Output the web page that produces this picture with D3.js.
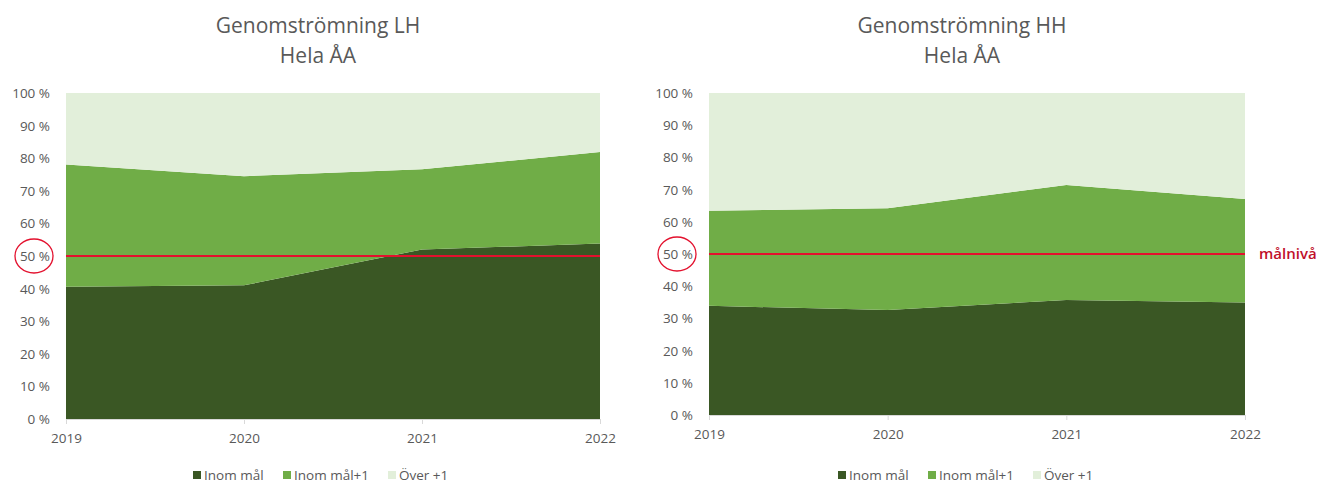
<!doctype html>
<html lang="sv">
<head>
  <meta charset="utf-8">
  <title>Genomströmning</title>
</head>
<body style="overflow: hidden; margin: 0; background: #fff;">
  <script src="https://cdnjs.cloudflare.com/ajax/libs/d3/7.8.5/d3.min.js"></script>
  <script type="text/javascript">

    // data
    const years = ["2019", "2020", "2021", "2022"];
    const seriesNames = ["Inom mål", "Inom mål+1", "Över +1"];
    const lhInom = [40.6, 41.0, 52.0, 53.8];
    const lhInom1 = [37.5, 33.5, 24.6, 28.1];
    const lhOver = [21.9, 25.5, 23.4, 18.1];
    const hhInom = [33.9, 32.6, 35.7, 34.9];
    const hhInom1 = [29.5, 31.6, 35.7, 32.2];
    const hhOver = [36.6, 35.8, 28.6, 32.9];
    const yTicks = [0, 10, 20, 30, 40, 50, 60, 70, 80, 90, 100];
    const target = 50;

    const colors = ["#3a5724", "#70ad47", "#e2efda"];
    const font = "'Open Sans', 'Liberation Sans', sans-serif";

    let svg = d3.select("body").append("svg")
      .attr("width", 1326)
      .attr("height", 483)
      .style("font-family", font);

    function drawChart(cfg) {
      let rows = years.map((y, i) => ({
        year: y,
        "Inom mål": cfg.a[i],
        "Inom mål+1": cfg.b[i],
        "Över +1": cfg.c[i]
      }));
      let stacked = d3.stack().keys(seriesNames)(rows);

      let x = d3.scalePoint().domain(years).range([cfg.left, cfg.right]);
      let y = d3.scaleLinear().domain([0, 100]).range([cfg.bottom, cfg.top]);

      let g = svg.append("g");

      // title
      g.append("text")
        .attr("x", cfg.titleX).attr("y", 33)
        .attr("text-anchor", "middle")
        .attr("font-size", 21).attr("fill", "#595959")
        .text(cfg.title);
      g.append("text")
        .attr("x", cfg.titleX).attr("y", 63)
        .attr("text-anchor", "middle")
        .attr("font-size", 21).attr("fill", "#595959")
        .text("Hela ÅA");

      let area = d3.area()
        .x(d => x(d.data.year))
        .y0(d => y(d[0]))
        .y1(d => y(d[1]));

      g.selectAll("path.layer")
        .data(stacked)
        .join("path")
        .attr("class", "layer")
        .attr("fill", (d, i) => colors[i])
        .attr("d", area);

      // y axis labels
      g.selectAll("text.ytick")
        .data(yTicks)
        .join("text")
        .attr("class", "ytick")
        .attr("x", cfg.left - 16)
        .attr("y", d => y(d) + 5)
        .attr("text-anchor", "end")
        .attr("font-size", 13.5).attr("fill", "#595959")
        .text(d => d + " %");

      // x axis
      let xAxis = d3.axisBottom(x).tickSize(5).tickSizeOuter(0).tickPadding(9);
      let ax = g.append("g")
        .attr("transform", "translate(0," + cfg.bottom + ")")
        .call(xAxis);
      ax.select(".domain").attr("stroke", "#d9d9d9");
      ax.selectAll(".tick line").attr("stroke", "#d9d9d9");
      ax.selectAll(".tick text")
        .attr("font-size", 13.5).attr("fill", "#595959")
        .attr("font-family", font);

      // target line
      g.append("line")
        .attr("x1", cfg.left).attr("x2", cfg.right)
        .attr("y1", y(target)).attr("y2", y(target))
        .attr("stroke", "#e3112e").attr("stroke-width", 2);

      // circle round 50 %
      g.append("ellipse")
        .attr("cx", cfg.left - 32).attr("cy", y(target))
        .attr("rx", 19).attr("ry", 17)
        .attr("fill", "none")
        .attr("stroke", "#e3112e").attr("stroke-width", 1.3);

      // legend
      let leg = g.append("g")
        .attr("transform", "translate(" + cfg.legendX + ",476)");
      let offs = [0, 90, 195];
      seriesNames.forEach((s, i) => {
        leg.append("rect")
          .attr("x", offs[i]).attr("y", -5)
          .attr("width", 8).attr("height", 8)
          .attr("fill", colors[i]);
        leg.append("text")
          .attr("x", offs[i] + 11).attr("y", 4)
          .attr("font-size", 13.5).attr("fill", "#595959")
          .text(s);
      });

      return y;
    }

    drawChart({
      title: "Genomströmning LH", titleX: 318,
      a: lhInom, b: lhInom1, c: lhOver,
      left: 66, right: 600, top: 93, bottom: 419,
      legendX: 193
    });

    let yR = drawChart({
      title: "Genomströmning HH", titleX: 962,
      a: hhInom, b: hhInom1, c: hhOver,
      left: 709, right: 1245, top: 93, bottom: 415,
      legendX: 838
    });

    svg.append("text")
      .attr("x", 1259).attr("y", yR(target) + 5)
      .attr("font-size", 15).attr("font-weight", 600)
      .attr("fill", "#c0102a")
      .text("målnivå");

  </script>
</body>
</html>
